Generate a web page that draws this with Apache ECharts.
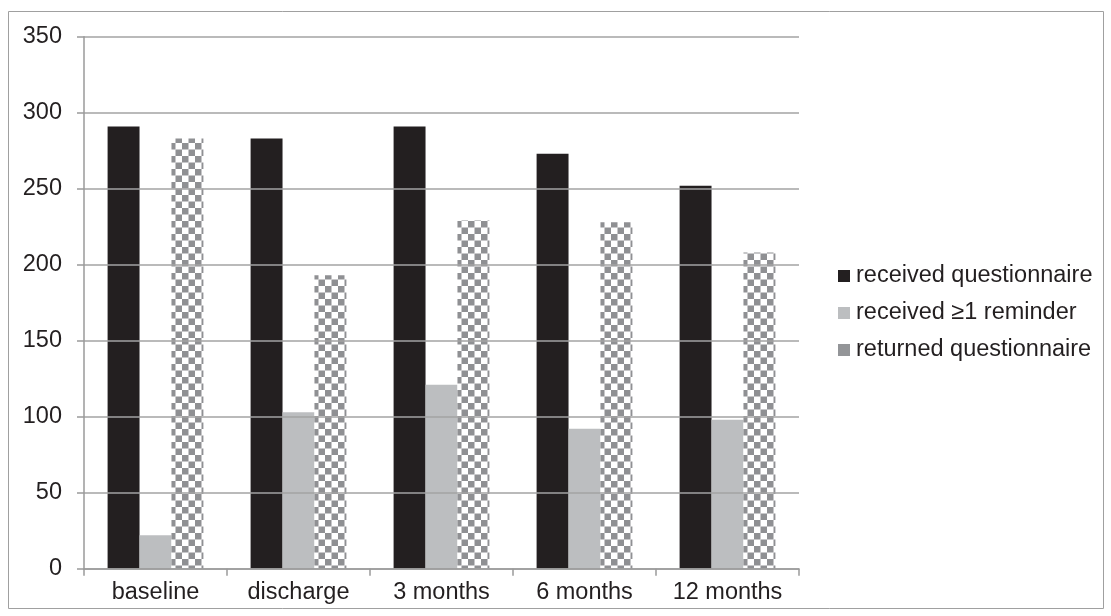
<!DOCTYPE html>
<html>
<head>
<meta charset="utf-8">
<script src="https://cdn.jsdelivr.net/npm/echarts@6/dist/echarts.min.js"></script>
<style>
  html, body { margin: 0; padding: 0; background: #fff; }
  #chart { width: 1111px; height: 616px; }
</style>
</head>
<body>
<div id="chart"></div>
<script>
// Questionnaire flow at each time point
const categories = ['baseline', 'discharge', '3 months', '6 months', '12 months'];
const receivedQuestionnaire = [291, 283, 291, 273, 252];
const receivedReminder = [22, 103, 121, 92, 98];
const returnedQuestionnaire = [283, 193, 229, 228, 208];
const yTicks = [0, 50, 100, 150, 200, 250, 300, 350];

// Checkerboard fill for the "returned" bars
function checkerPattern() {
  const c = document.createElement('canvas');
  c.width = 13; c.height = 13;
  const ctx = c.getContext('2d');
  ctx.fillStyle = '#ffffff';
  ctx.fillRect(0, 0, 13, 13);
  ctx.fillStyle = '#8f9093';
  ctx.fillRect(0, 0, 6.5, 6.5);
  ctx.fillRect(6.5, 6.5, 6.5, 6.5);
  return c;
}

const font = 'Liberation Sans, Arial, sans-serif';
const fs = 23.5;
const chart = echarts.init(document.getElementById('chart'), null, { renderer: 'canvas' });

chart.setOption({
  animation: false,
  backgroundColor: '#ffffff',
  textStyle: { fontFamily: font },
  graphic: [{
    type: 'rect',
    shape: { x: 8.5, y: 11.5, width: 1095, height: 597 },
    style: { fill: 'none', stroke: '#a0a0a0', lineWidth: 1 },
    z: -1
  }],
  grid: { left: 84, right: 312, top: 36.7, bottom: 47.3, containLabel: false },
  legend: {
    orient: 'vertical',
    left: 838,
    top: 264,
    padding: 0,
    itemWidth: 12,
    itemHeight: 12,
    itemGap: 13,
    icon: 'rect',
    textStyle: { fontFamily: font, fontSize: fs, lineHeight: 24, color: '#231f20', padding: [0, 0, 0, 1] },
    data: [
      { name: 'received questionnaire', itemStyle: { color: '#231f20' } },
      { name: 'received \u22651 reminder', itemStyle: { color: '#bcbec0' } },
      { name: 'returned questionnaire', itemStyle: { color: '#939598' } }
    ]
  },
  xAxis: {
    type: 'category',
    data: categories,
    axisLine: { lineStyle: { color: '#9a9a9a', width: 1.5 } },
    axisTick: { show: true, length: 7, lineStyle: { color: '#9a9a9a', width: 1.5 } },
    axisLabel: { fontFamily: font, fontSize: fs, color: '#231f20', margin: 12 },
    z: 10
  },
  yAxis: {
    type: 'value',
    min: 0,
    max: 350,
    interval: 50,
    axisLine: { show: true, lineStyle: { color: '#9a9a9a', width: 1.5 } },
    axisTick: { show: true, length: 7, lineStyle: { color: '#9a9a9a', width: 1.5 } },
    splitLine: { show: true, lineStyle: { color: '#a3a3a3', width: 1.5 } },
    axisLabel: {
      fontFamily: font, fontSize: fs, color: '#231f20', margin: 22,
      formatter: v => (yTicks.indexOf(v) >= 0 ? String(v) : '')
    },
    z: 10
  },
  series: [
    {
      name: 'received questionnaire',
      type: 'bar',
      data: receivedQuestionnaire,
      barGap: '0%',
      barCategoryGap: '33%',
      itemStyle: { color: '#231f20' },
      z: 2
    },
    {
      name: 'received \u22651 reminder',
      type: 'bar',
      data: receivedReminder,
      barGap: '0%',
      barCategoryGap: '33%',
      itemStyle: { color: '#bcbec0' },
      z: 2
    },
    {
      name: 'returned questionnaire',
      type: 'bar',
      data: returnedQuestionnaire,
      barGap: '0%',
      barCategoryGap: '33%',
      itemStyle: { color: { image: checkerPattern(), repeat: 'repeat' } },
      z: 2
    }
  ]
});
</script>
</body>
</html>
